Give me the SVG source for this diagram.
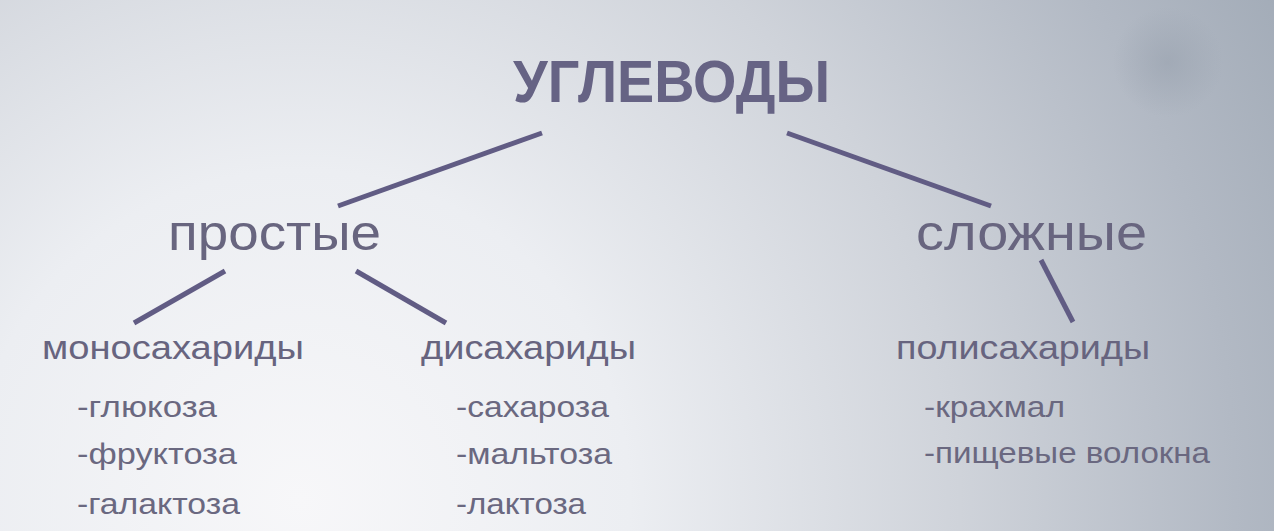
<svg xmlns="http://www.w3.org/2000/svg" width="1274" height="531" viewBox="0 0 1274 531">
<defs>
<radialGradient id="bg" cx="300" cy="500" r="1100" gradientUnits="userSpaceOnUse">
<stop offset="0" stop-color="#f7f7f9"/>
<stop offset="0.3" stop-color="#eceef2"/>
<stop offset="0.6" stop-color="#cfd3da"/>
<stop offset="0.85" stop-color="#b2b9c4"/>
<stop offset="1" stop-color="#a3acb8"/>
</radialGradient>
<radialGradient id="blob" cx="1168" cy="62" r="55" gradientUnits="userSpaceOnUse">
<stop offset="0" stop-color="#97a0ad" stop-opacity="0.55"/>
<stop offset="1" stop-color="#97a0ad" stop-opacity="0"/>
</radialGradient>
<style>
text{font-family:"Liberation Sans",Arial,sans-serif;fill:#67647f}
.title{font-weight:bold;font-size:60px;fill:#666384}
.l1{font-size:50px;fill:#68657f}
.l2{font-size:34px}
.l3{font-size:29px;fill:#6a6880}
.conn line{stroke:#615c84;stroke-width:5;stroke-linecap:butt}
</style>
</defs>
<rect width="1274" height="531" fill="url(#bg)"/>
<rect x="1100" y="0" width="174" height="140" fill="url(#blob)"/>
<g class="conn">
<line x1="542" y1="133" x2="338" y2="206"/>
<line x1="787" y1="133" x2="991" y2="206"/>
<line x1="225" y1="271" x2="134" y2="323"/>
<line x1="356" y1="271" x2="446" y2="323"/>
<line x1="1041" y1="260" x2="1073" y2="322"/>
</g>
<g id="root"><text class="title" x="513" y="102" textLength="317" lengthAdjust="spacingAndGlyphs">УГЛЕВОДЫ</text></g>
<g id="simple"><text class="l1" x="168" y="250" textLength="213" lengthAdjust="spacingAndGlyphs">простые</text></g>
<g id="complex"><text class="l1" x="916" y="250" textLength="231" lengthAdjust="spacingAndGlyphs">сложные</text></g>
<g id="mono">
<text class="l2" x="42" y="359" textLength="262" lengthAdjust="spacingAndGlyphs">моносахариды</text>
<text class="l3" x="77" y="417" textLength="140" lengthAdjust="spacingAndGlyphs">-глюкоза</text>
<text class="l3" x="77" y="464" textLength="160" lengthAdjust="spacingAndGlyphs">-фруктоза</text>
<text class="l3" x="77" y="514" textLength="163" lengthAdjust="spacingAndGlyphs">-галактоза</text>
</g>
<g id="di">
<text class="l2" x="421" y="359" textLength="215" lengthAdjust="spacingAndGlyphs">дисахариды</text>
<text class="l3" x="456" y="417" textLength="153" lengthAdjust="spacingAndGlyphs">-сахароза</text>
<text class="l3" x="456" y="464" textLength="156" lengthAdjust="spacingAndGlyphs">-мальтоза</text>
<text class="l3" x="456" y="514" textLength="130" lengthAdjust="spacingAndGlyphs">-лактоза</text>
</g>
<g id="poly">
<text class="l2" x="896" y="359" textLength="254" lengthAdjust="spacingAndGlyphs">полисахариды</text>
<text class="l3" x="924" y="417" textLength="141" lengthAdjust="spacingAndGlyphs">-крахмал</text>
<text class="l3" x="924" y="463" textLength="286" lengthAdjust="spacingAndGlyphs">-пищевые волокна</text>
</g>
</svg>
